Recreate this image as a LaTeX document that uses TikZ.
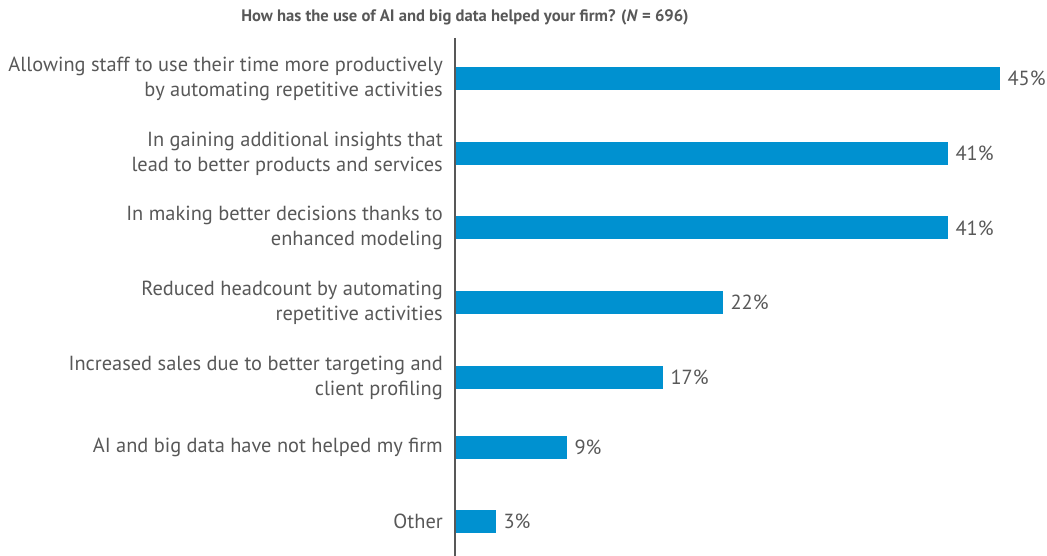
\documentclass[tikz,border=0pt]{standalone}
\usepackage{fontspec}
\setmainfont{PT Sans}
\usetikzlibrary{positioning}
\definecolor{barblue}{RGB}{0,145,208}
\definecolor{txtgray}{RGB}{88,88,88}

\begin{document}
\begin{tikzpicture}[x=1pt, y=-1pt]
		\tikzstyle{Bar} = [rectangle, anchor=west, minimum height=23pt, inner sep=0pt, fill=barblue]
		\tikzstyle{Label} = [align=right, text=txtgray, font=\fontsize{20.4}{25}\selectfont, inner sep=0pt]
		\tikzstyle{Pct} = [text=txtgray, font=\fontsize{20.4}{25}\selectfont, inner sep=0pt]
		
		\useasboundingbox (0,0) rectangle (1047,556);
		\node (title) [text=txtgray, font=\bfseries\fontsize{16.6}{20}\selectfont] at (465,17) {How has the use of AI and big data helped your firm? (\textit{N} = 696)};
		
		\node (bar1) [Bar, minimum width=545pt] at (455,78.5) {};
		\node (bar2) [Bar, minimum width=493pt] at (455,153.5) {};
		\node (bar3) [Bar, minimum width=493pt] at (455,228) {};
		\node (bar4) [Bar, minimum width=268pt] at (455,302.5) {};
		\node (bar5) [Bar, minimum width=208pt] at (455,377.5) {};
		\node (bar6) [Bar, minimum width=112pt] at (455,447) {};
		\node (bar7) [Bar, minimum width=41pt] at (455,521.5) {};
		
		\node (lab1) [Label, left=12pt of bar1] {Allowing staff to use their time more productively\\by automating repetitive activities};
		\node (lab2) [Label, left=12pt of bar2] {In gaining additional insights that\\lead to better products and services};
		\node (lab3) [Label, left=12pt of bar3] {In making better decisions thanks to\\enhanced modeling};
		\node (lab4) [Label, left=12pt of bar4] {Reduced headcount by automating\\repetitive activities};
		\node (lab5) [Label, left=12pt of bar5] {Increased sales due to better targeting and\\client profiling};
		\node (lab6) [Label, left=12pt of bar6] {AI and big data have not helped my firm};
		\node (lab7) [Label, left=12pt of bar7] {Other};
		
		\node (pct1) [Pct, right=7pt of bar1] {45\%};
		\node (pct2) [Pct, right=7pt of bar2] {41\%};
		\node (pct3) [Pct, right=7pt of bar3] {41\%};
		\node (pct4) [Pct, right=7pt of bar4] {22\%};
		\node (pct5) [Pct, right=7pt of bar5] {17\%};
		\node (pct6) [Pct, right=7pt of bar6] {9\%};
		\node (pct7) [Pct, right=7pt of bar7] {3\%};
		
		\coordinate (axtop) at (455,38);
		\coordinate (axbot) at (455,556);
		\draw [line width=2pt, txtgray] (axtop) -- (axbot);
\end{tikzpicture}
\end{document}
